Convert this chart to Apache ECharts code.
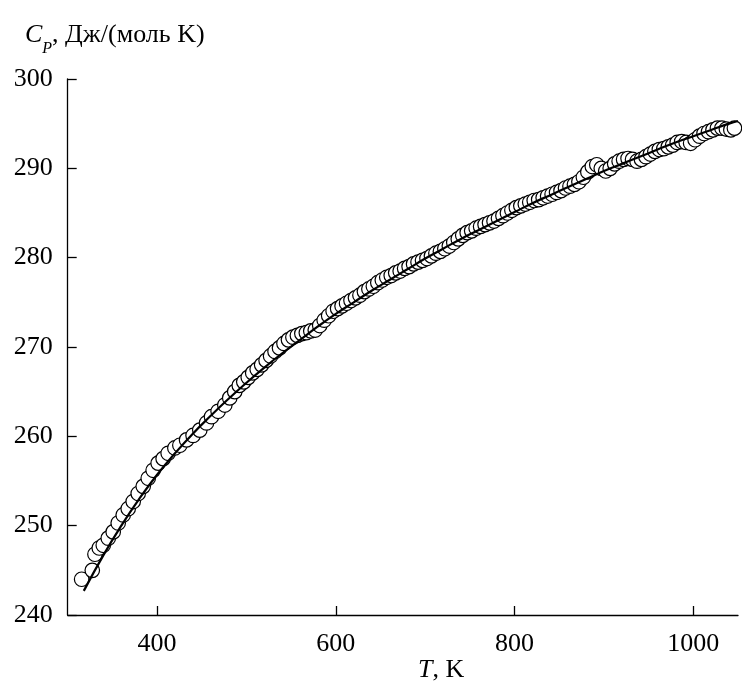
<!DOCTYPE html>
<html>
<head>
<meta charset="utf-8">
<script src="https://cdn.jsdelivr.net/npm/echarts@6/dist/echarts.min.js"></script>
<style>
html,body{margin:0;padding:0;background:#fff;}
#chart{width:742px;height:689px;}
</style>
</head>
<body>
<div id="chart"></div>
<script>
// Measured heat capacity points: temperature T (K) and Cp (J/(mol K))
const measuredT = [315.6,327.5,330.5,335.3,339.8,345.4,350.9,356.5,362.1,367.7,373.3,378.9,384.5,390.1,395.6,401.2,406.8,412.4,419.9,425.5,433.0,440.3,447.8,455.3,460.9,468.3,475.8,481.3,486.9,
  492,497,502,507,512,517,522,527,532,537,542,547,552,557,562,567,572,577,582,587,592,597,602,607,612,617,622,627,632,637,642,647,652,657,662,667,672,677,682,687,692,697,702,707,712,717,722,727,732,737,742,747,752,757,762,767,772,777,782,787,792,797,802,807,812,817,822,827,832,837,842,847,852,857,862,867,872,877,882,887,892,897,902,907,912,917,922,927,932,937,942,947,952,957,962,967,972,977,982,987,992,997,1002,1007,1012,1017,1022,1027,1032,1037,1042,1046];
const measuredCp = [244.0,245.0,246.8,247.5,247.8,248.6,249.3,250.3,251.2,251.9,252.7,253.6,254.4,255.3,256.2,257.0,257.5,258.1,258.7,259.0,259.6,260.1,260.7,261.5,262.2,262.8,263.5,264.3,265.0,
  265.7,266.1,266.6,267.1,267.5,268.0,268.5,269.0,269.5,269.9,270.4,270.8,271.1,271.3,271.5,271.6,271.8,271.9,272.4,273.0,273.5,274.0,274.3,274.6,274.9,275.2,275.5,275.8,276.2,276.5,276.8,277.2,277.5,277.8,278.0,278.3,278.5,278.8,279.0,279.3,279.5,279.7,279.9,280.2,280.5,280.7,281.0,281.3,281.7,282.1,282.5,282.8,283.0,283.3,283.5,283.7,283.9,284.1,284.4,284.7,285.0,285.3,285.6,285.8,286.0,286.2,286.4,286.5,286.7,286.9,287.1,287.3,287.5,287.8,288.0,288.2,288.5,289.0,289.6,290.2,290.4,290.0,289.7,290.0,290.5,290.8,291.0,291.1,291.0,290.8,291.0,291.3,291.6,291.9,292.1,292.2,292.4,292.6,292.9,293.0,292.9,292.8,293.2,293.6,293.9,294.1,294.3,294.5,294.5,294.4,294.3,294.5];

// Fitted smooth curve
const fitT  = [318,340,360,380,400,420,440,460,480,500,520,540,560,580,600,620,640,660,680,700,720,740,760,780,800,820,840,860,880,900,920,940,960,980,1000,1020,1040,1050];
const fitCp = [242.7,246.7,250.0,253.0,255.7,258.1,260.3,262.3,264.2,266.0,267.7,269.3,270.8,272.3,273.7,275.0,276.3,277.5,278.7,279.9,281.0,282.1,283.1,284.1,285.1,286.1,287.0,287.9,288.8,289.7,290.5,291.3,292.1,292.9,293.6,294.3,295.0,295.3];

// Tick labels
const xTicks = [400,600,800,1000];
const yTicks = [240,250,260,270,280,290,300];

const FONT = '"Liberation Serif","DejaVu Serif",serif';

const chart = echarts.init(document.getElementById('chart'), null, {renderer:'canvas'});
const scatterData = measuredT.map((t,i)=>[t, measuredCp[i]]);
const fitData = fitT.map((t,i)=>[t, fitCp[i]]);

chart.setOption({
  backgroundColor:'#ffffff',
  animation:false,
  grid:{left:67.7, right:4, top:79, bottom:74, containLabel:false},
  xAxis:{
    type:'value', min:300, max:1050,
    axisLine:{show:true, lineStyle:{color:'#000', width:1.3}},
    axisTick:{show:true, inside:true, length:9, lineStyle:{color:'#000', width:1.3}, customValues:xTicks},
    axisLabel:{show:true, margin:16, color:'#000', fontFamily:FONT, fontSize:26, customValues:xTicks,
      formatter:(v)=>String(v)},
    splitLine:{show:false}
  },
  yAxis:{
    type:'value', min:240, max:300, interval:10,
    axisLine:{show:true, lineStyle:{color:'#000', width:1.3}},
    axisTick:{show:true, inside:true, length:9, lineStyle:{color:'#000', width:1.3}, customValues:yTicks},
    axisLabel:{show:true, margin:15, color:'#000', fontFamily:FONT, fontSize:26, customValues:yTicks,
      formatter:(v)=>String(v)},
    splitLine:{show:false}
  },
  graphic:[
    {type:'text', left:25, top:22, style:{
      text:'{c|C}{p|P}{n|, Дж/(моль K)}',
      rich:{
        c:{fontFamily:FONT, fontSize:26, fontStyle:'italic', fill:'#000', lineHeight:35, verticalAlign:'top'},
        p:{fontFamily:FONT, fontSize:16, fontStyle:'italic', fill:'#000', lineHeight:35, verticalAlign:'bottom'},
        n:{fontFamily:FONT, fontSize:26, fill:'#000', lineHeight:35, verticalAlign:'top'}
      }
    }},
    {type:'text', left:418, top:657, style:{
      text:'{t|T}{n|, K}',
      rich:{
        t:{fontFamily:FONT, fontSize:26, fontStyle:'italic', fill:'#000'},
        n:{fontFamily:FONT, fontSize:26, fill:'#000'}
      }
    }}
  ],
  series:[
    {type:'scatter', data:scatterData, symbol:'circle', symbolSize:14.5,
      itemStyle:{color:'#fff', borderColor:'#000', borderWidth:1.2, opacity:1}, z:2},
    {type:'line', data:fitData, smooth:true, showSymbol:false, symbol:'none',
      lineStyle:{color:'#000', width:2.2}, z:3}
  ]
});
</script>
</body>
</html>
